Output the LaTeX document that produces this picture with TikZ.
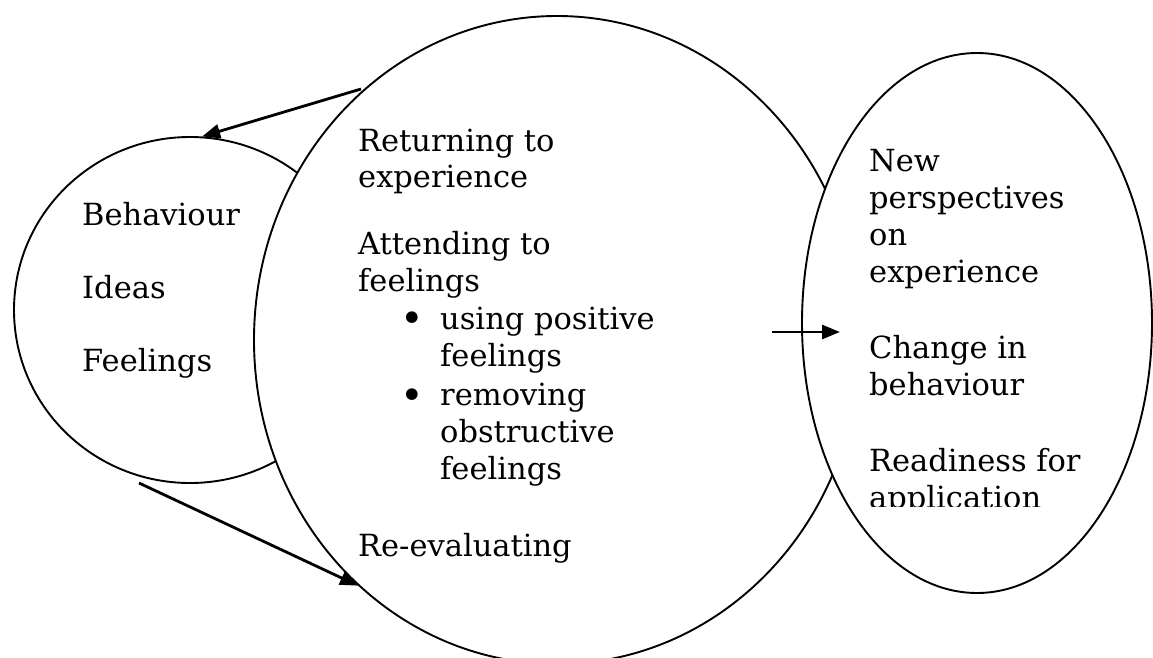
\documentclass[tikz,border=0pt]{standalone}
\usepackage{fontspec}
\setmainfont{DejaVu Serif}
\usetikzlibrary{shapes.geometric,arrows.meta}
\begin{document}
\begin{tikzpicture}[x=1pt,y=-1pt,
  blob/.style={ellipse,draw=black,line width=1.9pt,fill=white,inner sep=0pt},
  txt/.style={anchor=base west,inner sep=0pt,font=\fontsize{30.5}{36}\selectfont},
  bul/.style={anchor=center,inner sep=0pt,font=\fontsize{40}{40}\selectfont},
  link/.style={line width=2.8pt,-{Triangle[length=18pt,width=14pt]}}]
\useasboundingbox (0,0) rectangle (1153,658);
\clip (0,0) rectangle (1153,658);
% shapes
\node[blob,minimum width=352pt,minimum height=346pt] (L) at (190,310) {};
\node[blob,minimum width=606pt,minimum height=648pt] (M) at (557,340) {};
\node[blob,minimum width=350pt,minimum height=540pt] (R) at (977,323) {};
% left text
\node[txt] (l1) at (82,225) {Behaviour};
\node[txt] (l2) at (82,298) {Ideas};
\node[txt] (l3) at (82,371) {Feelings};
% middle text
\node[txt] (m1) at (358,151) {Returning to};
\node[txt] (m2) at (358,187) {experience};
\node[txt] (m3) at (358,254) {Attending to};
\node[txt] (m4) at (358,291) {feelings};
\node[bul] (b1) at (412,322) {•};
\node[txt] (m5) at (440,329) {using positive};
\node[txt] (m6) at (440,366) {feelings};
\node[bul] (b2) at (412,399) {•};
\node[txt] (m7) at (440,405) {removing};
\node[txt] (m8) at (440,442) {obstructive};
\node[txt] (m9) at (440,479) {feelings};
\node[txt] (m10) at (358,556) {Re-evaluating};
% right text
\begin{scope}
\clip (860,100) rectangle (1153,506);
\node[txt] (r1) at (869,171) {New};
\node[txt] (r2) at (869,208) {perspectives};
\node[txt] (r3) at (869,245) {on};
\node[txt] (r4) at (869,282) {experience};
\node[txt] (r5) at (869,358) {Change in};
\node[txt] (r6) at (869,395) {behaviour};
\node[txt] (r7) at (869,471) {Readiness for};
\node[txt] (r8) at (869,508) {application};
\end{scope}
% arrows
\coordinate (a1s) at (361,89);
\coordinate (a2s) at (139,483);
\coordinate (a3s) at (772,332);
\coordinate (a3e) at (840,332);
\draw[link] (a1s) -- (L.86);
\draw[link] (a2s) -- (M.231);
\draw[link] (a3s) -- (a3e);
\end{tikzpicture}
\end{document}
